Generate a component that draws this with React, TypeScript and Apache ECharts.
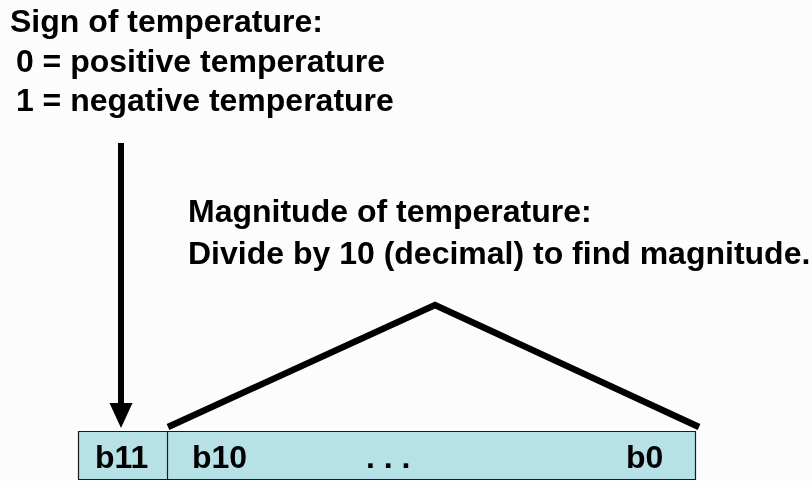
import React, { useEffect, useRef } from "react";
import * as echarts from "echarts";

// Text content of the diagram
const signLines = ["Sign of temperature:", " 0 = positive temperature", " 1 = negative temperature"];
const magnitudeLines = ["Magnitude of temperature:", "Divide by 10 (decimal) to find magnitude."];
const bitLabels = ["b11", "b10", ". . .", "b0"];

const FONT = '"Liberation Sans", Arial, sans-serif';

export default function App() {
  const ref = useRef<HTMLDivElement>(null);
  useEffect(() => {
    if (!ref.current) return;
    const chart = echarts.init(ref.current, undefined, { renderer: "svg" });
    const textStyle = (s: string, x: number, y: number) => ({
      type: "text",
      x,
      y,
      style: {
        text: s,
        fill: "#000",
        font: `bold 32px ${FONT}`,
        align: "left",
        verticalAlign: "middle",
      },
    });
    const signY = [21, 61, 100];
    const magY = [211, 253];
    const bitX = [95, 192, 366, 626];
    const elements: any[] = [];
    elements.push({ type: "rect", shape: { x: 0, y: 0, width: 812, height: 481 }, style: { fill: "#fcfcfc" } });
    signLines.forEach((s, i) => elements.push(textStyle(s, i === 0 ? 10 : 7, signY[i])));
    magnitudeLines.forEach((s, i) => elements.push(textStyle(s, 188, magY[i])));
    // register box
    elements.push({
      type: "rect",
      shape: { x: 78.5, y: 431.5, width: 617, height: 48 },
      style: { fill: "#b6e1e6", stroke: "#1a1a1a", lineWidth: 1.2 },
    });
    elements.push({
      type: "line",
      shape: { x1: 167.5, y1: 431.5, x2: 167.5, y2: 479.5 },
      style: { stroke: "#1a1a1a", lineWidth: 1.2 },
    });
    bitLabels.forEach((s, i) => elements.push(textStyle(s, bitX[i], 457)));
    // sign arrow
    elements.push({
      type: "line",
      shape: { x1: 121, y1: 143, x2: 121, y2: 406 },
      style: { stroke: "#000", lineWidth: 6 },
    });
    elements.push({
      type: "polygon",
      shape: { points: [[109.5, 403], [132.5, 403], [121, 428]] },
      style: { fill: "#000" },
    });
    // magnitude bracket
    elements.push({
      type: "polyline",
      shape: { points: [[168, 427], [435, 305], [699, 427]] },
      style: { stroke: "#000", lineWidth: 6.5, fill: "none", lineJoin: "miter" },
    });
    chart.setOption({ animation: false, graphic: { elements } });
    return () => chart.dispose();
  }, []);
  return <div ref={ref} style={{ position: "fixed", left: 0, top: 0, width: 812, height: 481 }} />;
}
